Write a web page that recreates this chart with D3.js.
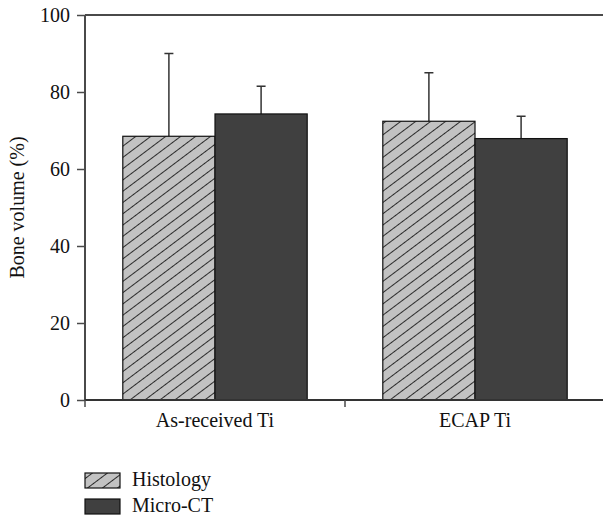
<!DOCTYPE html>
<html><head><meta charset="utf-8">
<script src="https://cdn.jsdelivr.net/npm/d3@7"></script>
<style>body{margin:0;background:#fff}svg{display:block}</style>
</head><body>
<script>
const categories = ["As-received Ti", "ECAP Ti"];
const seriesNames = ["Histology", "Micro-CT"];
const histology = [68.5, 72.4];
const histologyErr = [21.5, 12.6];
const microCT = [74.3, 67.9];
const microCTErr = [7.2, 5.8];
const yTicks = [0, 20, 40, 60, 80, 100];

const W = 603, H = 516;
const m = {left: 85, top: 15, right: -2, bottom: 116};
const svg = d3.select("body").append("svg").attr("width", W).attr("height", H);
const font = "Liberation Serif, Times New Roman, serif";
const fs = 20;

const defs = svg.append("defs");
const pat = defs.append("pattern").attr("id", "hatch").attr("patternUnits", "userSpaceOnUse")
  .attr("width", 9).attr("height", 9).attr("patternTransform", "rotate(-37)");
pat.append("rect").attr("width", 9).attr("height", 9).attr("fill", "#c2c2c2");
pat.append("line").attr("x1", 0).attr("x2", 9).attr("y1", 4.5).attr("y2", 4.5)
  .attr("stroke", "#1a1a1a").attr("stroke-width", 0.9);

const x = d3.scaleBand().domain(categories).range([m.left, W - m.right]).paddingInner(0).paddingOuter(0);
const x1 = d3.scaleBand().domain(seriesNames).range([0, x.bandwidth()]).paddingInner(0).paddingOuter(0.41);
const y = d3.scaleLinear().domain([0, 100]).range([H - m.bottom, m.top]);

const data = categories.map((c, i) => ({cat: c, vals: [
  {s: "Histology", v: histology[i], e: histologyErr[i]},
  {s: "Micro-CT", v: microCT[i], e: microCTErr[i]}]}));

const g = svg.append("g");
const groups = g.selectAll(".grp").data(data).join("g")
  .attr("transform", d => `translate(${x(d.cat)},0)`);

groups.selectAll(".err").data(d => d.vals).join("g").each(function(d) {
  const cx = x1(d.s) + x1.bandwidth() / 2;
  const sel = d3.select(this);
  sel.append("line").attr("x1", cx).attr("x2", cx).attr("y1", y(d.v)).attr("y2", y(d.v + d.e))
    .attr("stroke", "#333").attr("stroke-width", 1.5);
  sel.append("line").attr("x1", cx - 4.5).attr("x2", cx + 4.5).attr("y1", y(d.v + d.e)).attr("y2", y(d.v + d.e))
    .attr("stroke", "#333").attr("stroke-width", 1.5);
});

groups.selectAll("rect").data(d => d.vals).join("rect")
  .attr("x", d => x1(d.s)).attr("width", x1.bandwidth())
  .attr("y", d => y(d.v)).attr("height", d => y(0) - y(d.v))
  .attr("fill", d => d.s === "Histology" ? "url(#hatch)" : "#404040")
  .attr("stroke", "#111").attr("stroke-width", 1.2);

const yAxis = d3.axisLeft(y).tickValues(yTicks).tickSize(8).tickPadding(7);
const ya = svg.append("g").attr("transform", `translate(${m.left},0)`).call(yAxis);
ya.select(".domain").attr("stroke", "#4a4a4a").attr("stroke-width", 2).attr("d", `M0,${y(0)}V${y(100)}`);
ya.selectAll(".tick line").attr("stroke", "#4a4a4a").attr("stroke-width", 1.5);
ya.selectAll("text").attr("font-family", font).attr("font-size", fs).attr("fill", "#111");

const xAxis = d3.axisBottom(x).tickSize(0).tickPadding(13);
const xa = svg.append("g").attr("transform", `translate(0,${y(0)})`).call(xAxis);
xa.select(".domain").attr("stroke", "#333").attr("stroke-width", 2).attr("d", `M${m.left},0H${W}`);
xa.selectAll("text").attr("font-family", font).attr("font-size", fs).attr("fill", "#111");
xa.selectAll(".sep").data(categories.slice(1)).join("line").attr("class", "sep")
  .attr("x1", d => x(d)).attr("x2", d => x(d)).attr("y1", 0).attr("y2", 7)
  .attr("stroke", "#4a4a4a").attr("stroke-width", 1.5);
xa.append("line").attr("x1", m.left).attr("x2", m.left).attr("y1", 0).attr("y2", 7)
  .attr("stroke", "#4a4a4a").attr("stroke-width", 1.5);

svg.append("line").attr("x1", m.left).attr("x2", W).attr("y1", y(100)).attr("y2", y(100))
  .attr("stroke", "#4a4a4a").attr("stroke-width", 2);

svg.append("text").attr("transform", `translate(24,${(y(0) + y(100)) / 2}) rotate(-90)`)
  .attr("text-anchor", "middle").attr("font-family", font).attr("font-size", fs).attr("fill", "#111")
  .text("Bone volume (%)");

const leg = svg.append("g").attr("transform", "translate(85,473)");
seriesNames.forEach((s, i) => {
  const r = leg.append("g").attr("transform", `translate(0,${i * 26})`);
  r.append("rect").attr("width", 35).attr("height", 15)
    .attr("fill", s === "Histology" ? "url(#hatch)" : "#404040").attr("stroke", "#111").attr("stroke-width", 1.2);
  r.append("text").attr("x", 47).attr("y", 13).attr("font-family", font).attr("font-size", fs)
    .attr("fill", "#111").text(s);
});
</script>
</body></html>
